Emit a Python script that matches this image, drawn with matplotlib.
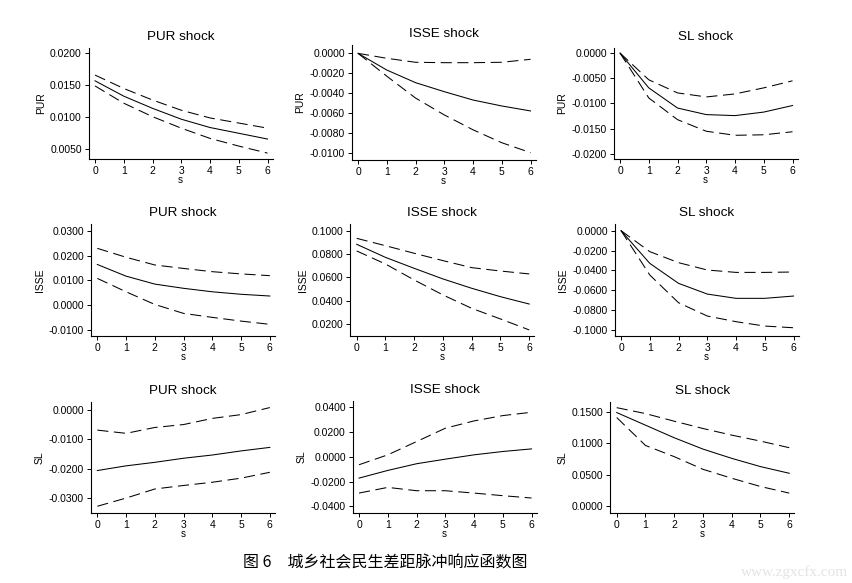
import matplotlib
matplotlib.use("Agg")
import matplotlib.pyplot as plt
from matplotlib.ticker import FormatStrFormatter

plt.rcParams['font.family'] = ['Liberation Sans', 'DejaVu Sans']
plt.rcParams['axes.unicode_minus'] = False
plt.rcParams['lines.scale_dashes'] = False

steps = [0, 1, 2, 3, 4, 5, 6]
shocks = ["PUR shock", "ISSE shock", "SL shock"]
responses = ["PUR", "ISSE", "SL"]

# response of PUR
pur_pur = [0.0157, 0.0133, 0.0114, 0.0097, 0.0084, 0.0075, 0.0066]
pur_pur_hi = [0.0166, 0.0145, 0.0127, 0.0111, 0.0099, 0.0091, 0.0083]
pur_pur_lo = [0.0149, 0.0122, 0.0101, 0.0083, 0.0067, 0.0055, 0.0044]
pur_isse = [0.0, -0.00168, -0.00295, -0.00386, -0.0047, -0.0053, -0.0058]
pur_isse_hi = [0.0, -0.0005, -0.0009, -0.00094, -0.00094, -0.0009, -0.0006]
pur_isse_lo = [0.0, -0.0023, -0.0045, -0.0062, -0.0077, -0.0090, -0.0100]
pur_sl = [0.0, -0.0069, -0.0109, -0.0122, -0.0124, -0.0117, -0.0104]
pur_sl_hi = [0.0, -0.0053, -0.0079, -0.0087, -0.0081, -0.0069, -0.0055]
pur_sl_lo = [0.0, -0.0089, -0.0132, -0.0155, -0.0163, -0.0162, -0.0156]

# response of ISSE
isse_pur = [0.0164, 0.0117, 0.0085, 0.0068, 0.0054, 0.0044, 0.0037]
isse_pur_hi = [0.0229, 0.0193, 0.0162, 0.0148, 0.0135, 0.0126, 0.0119]
isse_pur_lo = [0.0108, 0.0054, 0.0003, -0.0033, -0.0049, -0.0064, -0.0077]
isse_isse = [0.0883, 0.0771, 0.0677, 0.0586, 0.0506, 0.0434, 0.0371]
isse_isse_hi = [0.0934, 0.0871, 0.0806, 0.0743, 0.0683, 0.0654, 0.0629]
isse_isse_lo = [0.0826, 0.0714, 0.0577, 0.0449, 0.0334, 0.0243, 0.0149]
isse_sl = [0.0, -0.0329, -0.0530, -0.0638, -0.0681, -0.0681, -0.0658]
isse_sl_hi = [0.0, -0.0211, -0.0322, -0.0396, -0.0420, -0.0420, -0.0416]
isse_sl_lo = [0.0, -0.0446, -0.0725, -0.0859, -0.0916, -0.0960, -0.0977]

# response of SL
sl_pur = [-0.0206, -0.0190, -0.0178, -0.0164, -0.0153, -0.0139, -0.0127]
sl_pur_hi = [-0.0068, -0.0079, -0.0059, -0.0049, -0.0028, -0.0015, 0.0009]
sl_pur_lo = [-0.0328, -0.0300, -0.0269, -0.0257, -0.0246, -0.0232, -0.0212]
sl_isse = [-0.0172, -0.0110, -0.0056, -0.0019, 0.0016, 0.0043, 0.0064]
sl_isse_hi = [-0.0064, 0.0016, 0.0123, 0.0231, 0.0290, 0.0333, 0.0360]
sl_isse_lo = [-0.0293, -0.0247, -0.0274, -0.0274, -0.0293, -0.0314, -0.0333]
sl_sl = [0.149, 0.129, 0.109, 0.091, 0.0763, 0.0632, 0.0526]
sl_sl_hi = [0.1568, 0.1474, 0.1353, 0.1237, 0.1132, 0.1037, 0.0932]
sl_sl_lo = [0.1411, 0.0968, 0.0790, 0.0589, 0.0447, 0.0316, 0.0211]

panels = [
    [(pur_pur, pur_pur_lo, pur_pur_hi), (pur_isse, pur_isse_lo, pur_isse_hi), (pur_sl, pur_sl_lo, pur_sl_hi)],
    [(isse_pur, isse_pur_lo, isse_pur_hi), (isse_isse, isse_isse_lo, isse_isse_hi), (isse_sl, isse_sl_lo, isse_sl_hi)],
    [(sl_pur, sl_pur_lo, sl_pur_hi), (sl_isse, sl_isse_lo, sl_isse_hi), (sl_sl, sl_sl_lo, sl_sl_hi)],
]

yticks = [
    [[0.005, 0.010, 0.015, 0.020], [0.0, -0.002, -0.004, -0.006, -0.008, -0.010], [0.0, -0.005, -0.010, -0.015, -0.020]],
    [[-0.01, 0.0, 0.01, 0.02, 0.03], [0.02, 0.04, 0.06, 0.08, 0.10], [0.0, -0.02, -0.04, -0.06, -0.08, -0.10]],
    [[0.0, -0.01, -0.02, -0.03], [-0.04, -0.02, 0.0, 0.02, 0.04], [0.0, 0.05, 0.10, 0.15]],
]
ylims = [
    [(0.00348, 0.02083), (-0.01074, 0.00084), (-0.0210, 0.0010)],
    [(-0.0124, 0.0327), (0.0097, 0.1057), (-0.1060, 0.0067)],
    [(-0.0351, 0.0028), (-0.0454, 0.0451), (-0.0105, 0.1658)],
]

# axes boxes in pixels: left, top, bottom
W, H = 853, 583
lefts = [[88.7, 351.7, 613.7], [91, 350.4, 614.7], [91, 352.7, 610.4]]
tops = [[48, 45, 48], [224, 224, 224], [402, 401, 402]]
bottoms = [[159, 160, 159], [336, 336, 336], [513, 513, 513]]
axw = 184

fig = plt.figure(figsize=(W / 100, H / 100), dpi=100)

for r in range(3):
    for c in range(3):
        l, t, b = lefts[r][c], tops[r][c], bottoms[r][c]
        ax = fig.add_axes([l / W, 1 - b / H, axw / W, (b - t) / H])
        mid, lo, hi = panels[r][c]
        ax.plot(steps, mid, color='black', lw=0.75)
        ax.plot(steps, hi, color='black', lw=0.75, dashes=(8, 4))
        ax.plot(steps, lo, color='black', lw=0.75, dashes=(8, 4))
        ax.set_xlim(-0.22, 6.18)
        ax.set_ylim(*ylims[r][c])
        ax.set_xticks(steps)
        ax.set_yticks(yticks[r][c])
        ax.yaxis.set_major_formatter(FormatStrFormatter('%.4f'))
        ax.spines['top'].set_visible(False)
        ax.spines['right'].set_visible(False)
        for s in ('left', 'bottom'):
            ax.spines[s].set_linewidth(0.8)
        ax.tick_params(direction='out', length=3, width=0.7, labelsize=7.5, pad=2)
        ax.set_title(shocks[c], fontsize=9.7, pad=6)
        ax.set_ylabel(responses[r], fontsize=7.5, labelpad=3)
        ax.set_xlabel('s', fontsize=7, labelpad=-1)

fig.text(385 / W, 1 - 563 / H, '图 6　城乡社会民生差距脉冲响应函数图', ha='center', va='center',
         fontsize=11.5, family=['Noto Sans CJK SC', 'DejaVu Sans'])
fig.text(848 / W, 1 - 572 / H, 'www.zgxcfx.com', ha='right', va='center',
         fontsize=11, color='#e4e4e4', family='Liberation Serif')

fig.savefig('out.png', dpi=100)
